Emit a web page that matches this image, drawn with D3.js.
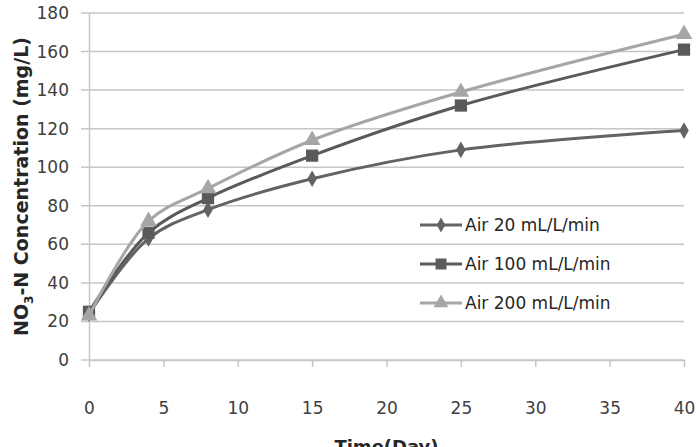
<!DOCTYPE html>
<html>
<head>
<meta charset="utf-8">
<script src="https://cdn.jsdelivr.net/npm/d3@7"></script>
<style>
  body { margin: 0; background: #fff; }
  text { font-family: "DejaVu Sans", "Open Sans", sans-serif; }
</style>
</head>
<body>
<svg id="chart"></svg>
<script>
// data
const days = [0, 4, 8, 15, 25, 40];
const air20 = [24, 63, 78, 94, 109, 119];
const air100 = [25, 66, 84, 106, 132, 161];
const air200 = [23, 72, 89, 114, 139, 169];
const seriesNames = ["Air 20 mL/L/min", "Air 100 mL/L/min", "Air 200 mL/L/min"];
const xTicks = [0, 5, 10, 15, 20, 25, 30, 35, 40];
const yTicks = [0, 20, 40, 60, 80, 100, 120, 140, 160, 180];

const width = 696, height = 447;
const margin = { top: 13, right: 12, bottom: 87, left: 89 };
const innerWidth = width - margin.left - margin.right;
const innerHeight = height - margin.top - margin.bottom;

const svg = d3.select("#chart").attr("width", width).attr("height", height);
const g = svg.append("g").attr("transform", `translate(${margin.left},${margin.top})`);

const x = d3.scaleLinear().domain([0, 40]).range([0, innerWidth]);
const y = d3.scaleLinear().domain([0, 180]).range([innerHeight, 0]);

// gridlines
g.append("g")
  .selectAll("line")
  .data(yTicks)
  .enter()
  .append("line")
  .attr("x1", -8)
  .attr("x2", innerWidth)
  .attr("y1", d => y(d))
  .attr("y2", d => y(d))
  .attr("stroke", "#c6c6c6")
  .attr("stroke-width", 1.5);

// y axis
const yAxis = g.append("g")
  .call(d3.axisLeft(y).tickValues(yTicks).tickSize(0).tickPadding(20));
yAxis.select(".domain").attr("stroke", "#c6c6c6").attr("stroke-width", 1.5);
yAxis.selectAll("text").style("font-size", "17px").attr("fill", "#404040")
  .attr("font-family", "DejaVu Sans");

// x axis
const xAxis = g.append("g")
  .attr("transform", `translate(0,${innerHeight})`)
  .call(d3.axisBottom(x).tickValues(xTicks).tickSize(7).tickPadding(35).tickSizeOuter(0));
xAxis.select(".domain").attr("stroke", "#c6c6c6").attr("stroke-width", 1.5);
xAxis.selectAll(".tick line").attr("stroke", "#c6c6c6").attr("stroke-width", 1.5);
xAxis.selectAll("text").style("font-size", "17px").attr("fill", "#404040")
  .attr("font-family", "DejaVu Sans");

// axis titles
svg.append("text")
  .attr("x", margin.left + innerWidth / 2)
  .attr("y", 453)
  .attr("text-anchor", "middle")
  .style("font-size", "18px")
  .style("font-weight", "bold")
  .attr("fill", "#262626")
  .text("Time(Day)");

const yTitle = svg.append("text")
  .attr("transform", `translate(21,${margin.top + innerHeight / 2}) rotate(-90)`)
  .attr("text-anchor", "middle")
  .attr("dy", "0.35em")
  .style("font-size", "19px")
  .style("font-weight", "bold")
  .attr("fill", "#262626");
yTitle.append("tspan").text("NO");
yTitle.append("tspan").attr("dy", 5).style("font-size", "12px").text("3");
yTitle.append("tspan").attr("dy", -5).text("-N Concentration (mg/L)");

// series
const series = [
  { name: seriesNames[0], values: air20, color: "#636363", symbol: d3.symbolDiamond, size: 80 },
  { name: seriesNames[1], values: air100, color: "#5a5a5a", symbol: d3.symbolSquare, size: 150 },
  { name: seriesNames[2], values: air200, color: "#a6a6a6", symbol: d3.symbolTriangle, size: 120 }
];

const line = d3.line()
  .x(d => x(d[0]))
  .y(d => y(d[1]))
  .curve(d3.curveCatmullRom.alpha(0.5));

series.forEach(s => {
  const pts = days.map((d, i) => [d, s.values[i]]);
  g.append("path")
    .datum(pts)
    .attr("fill", "none")
    .attr("stroke", s.color)
    .attr("stroke-width", 3)
    .attr("d", line);
  g.append("g")
    .selectAll("path")
    .data(pts)
    .enter()
    .append("path")
    .attr("transform", d => `translate(${x(d[0])},${y(d[1])})`)
    .attr("d", d3.symbol().type(s.symbol).size(s.size))
    .attr("fill", s.color);
});

// legend
const legend = svg.append("g").attr("transform", "translate(420,225)");
series.forEach((s, i) => {
  const row = legend.append("g").attr("transform", `translate(0,${i * 39})`);
  row.append("line")
    .attr("x1", 0).attr("x2", 42)
    .attr("stroke", s.color).attr("stroke-width", 3);
  row.append("path")
    .attr("transform", "translate(21,0)")
    .attr("d", d3.symbol().type(s.symbol).size(s.size * 0.8))
    .attr("fill", s.color);
  row.append("text")
    .attr("x", 45)
    .attr("dy", "0.35em")
    .style("font-size", "17px")
    .attr("fill", "#262626")
    .text(s.name);
});
</script>
</body>
</html>
